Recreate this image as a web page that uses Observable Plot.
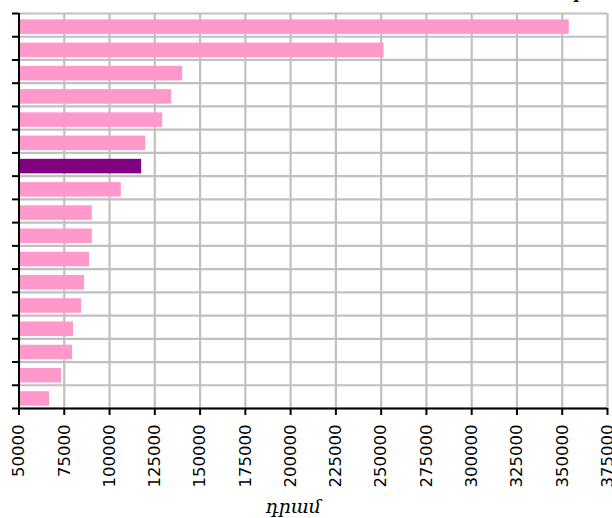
<!DOCTYPE html>
<html>
<head>
<meta charset="utf-8">
<script src="https://cdn.jsdelivr.net/npm/d3@7"></script>
<script src="https://cdn.jsdelivr.net/npm/@observablehq/plot@0.6"></script>
<style>
  html, body { margin: 0; padding: 0; background: #fff; }
  svg { display: block; }
</style>
</head>
<body>
<div id="chart"></div>
<script>
// Data, top to bottom
const ranks = ["1","2","3","4","5","6","7","8","9","10","11","12","13","14","15","16","17"];
const values = [353900, 251600, 140400, 134300, 129400, 120000, 117700, 106500, 90500, 90500, 89000, 86200, 84600, 80100, 79600, 73500, 66900];
const highlighted = ["7"];
const xTicks = [50000, 75000, 100000, 125000, 150000, 175000, 200000, 225000, 250000, 275000, 300000, 325000, 350000, 375000];
const axisTitle = "դրամ";

const data = ranks.map((r, i) => ({rank: r, row: i, value: values[i], hi: highlighted.includes(r)}));
const rowEdges = d3.range(0, ranks.length + 1);

const chart = Plot.plot({
  width: 612,
  height: 518,
  marginLeft: 18.5,
  marginRight: 5,
  marginTop: 13,
  marginBottom: 110,
  style: {fontFamily: "DejaVu Sans", fontSize: "16.5px", color: "#000", background: "#fff"},
  x: {domain: [50000, 375000]},
  y: {domain: [ranks.length, 0], axis: null},
  marks: [
    Plot.ruleX(xTicks, {stroke: "#c0c0c0", strokeWidth: 2.2}),
    Plot.ruleY(rowEdges, {stroke: "#c0c0c0", strokeWidth: 2.2}),
    Plot.rectX(data, {
      x1: 50000, x2: "value",
      y1: "row", y2: d => d.row + 1,
      insetTop: 6.4, insetBottom: 2.3,
      fill: d => d.hi ? "#800080" : "#ff99cc"
    }),
    Plot.axisY(rowEdges, {tickSize: 6.5, tickFormat: () => "", strokeWidth: 2, stroke: "#000", label: null}),
    Plot.axisX(xTicks, {
      tickSize: 7, tickRotate: -90, tickPadding: 9, strokeWidth: 2, stroke: "#000",
      tickFormat: d => String(d), fontSize: 16.5, label: null
    }),
    Plot.ruleX([50000], {stroke: "#000", strokeWidth: 2}),
    Plot.ruleY([ranks.length], {stroke: "#000", strokeWidth: 2}),
    Plot.text([axisTitle], {
      frameAnchor: "bottom", dx: -20, dy: 104, lineAnchor: "bottom",
      fontFamily: "DejaVu Serif", fontStyle: "italic", fontSize: 19, fill: "#000"
    }),
    Plot.text(["ր"], {
      frameAnchor: "top-right", dx: -23, dy: -16, lineAnchor: "bottom",
      fontFamily: "DejaVu Serif", fontWeight: "bold", fontSize: 16, fill: "#000"
    })
  ]
});
document.getElementById("chart").appendChild(chart);
</script>
</body>
</html>
